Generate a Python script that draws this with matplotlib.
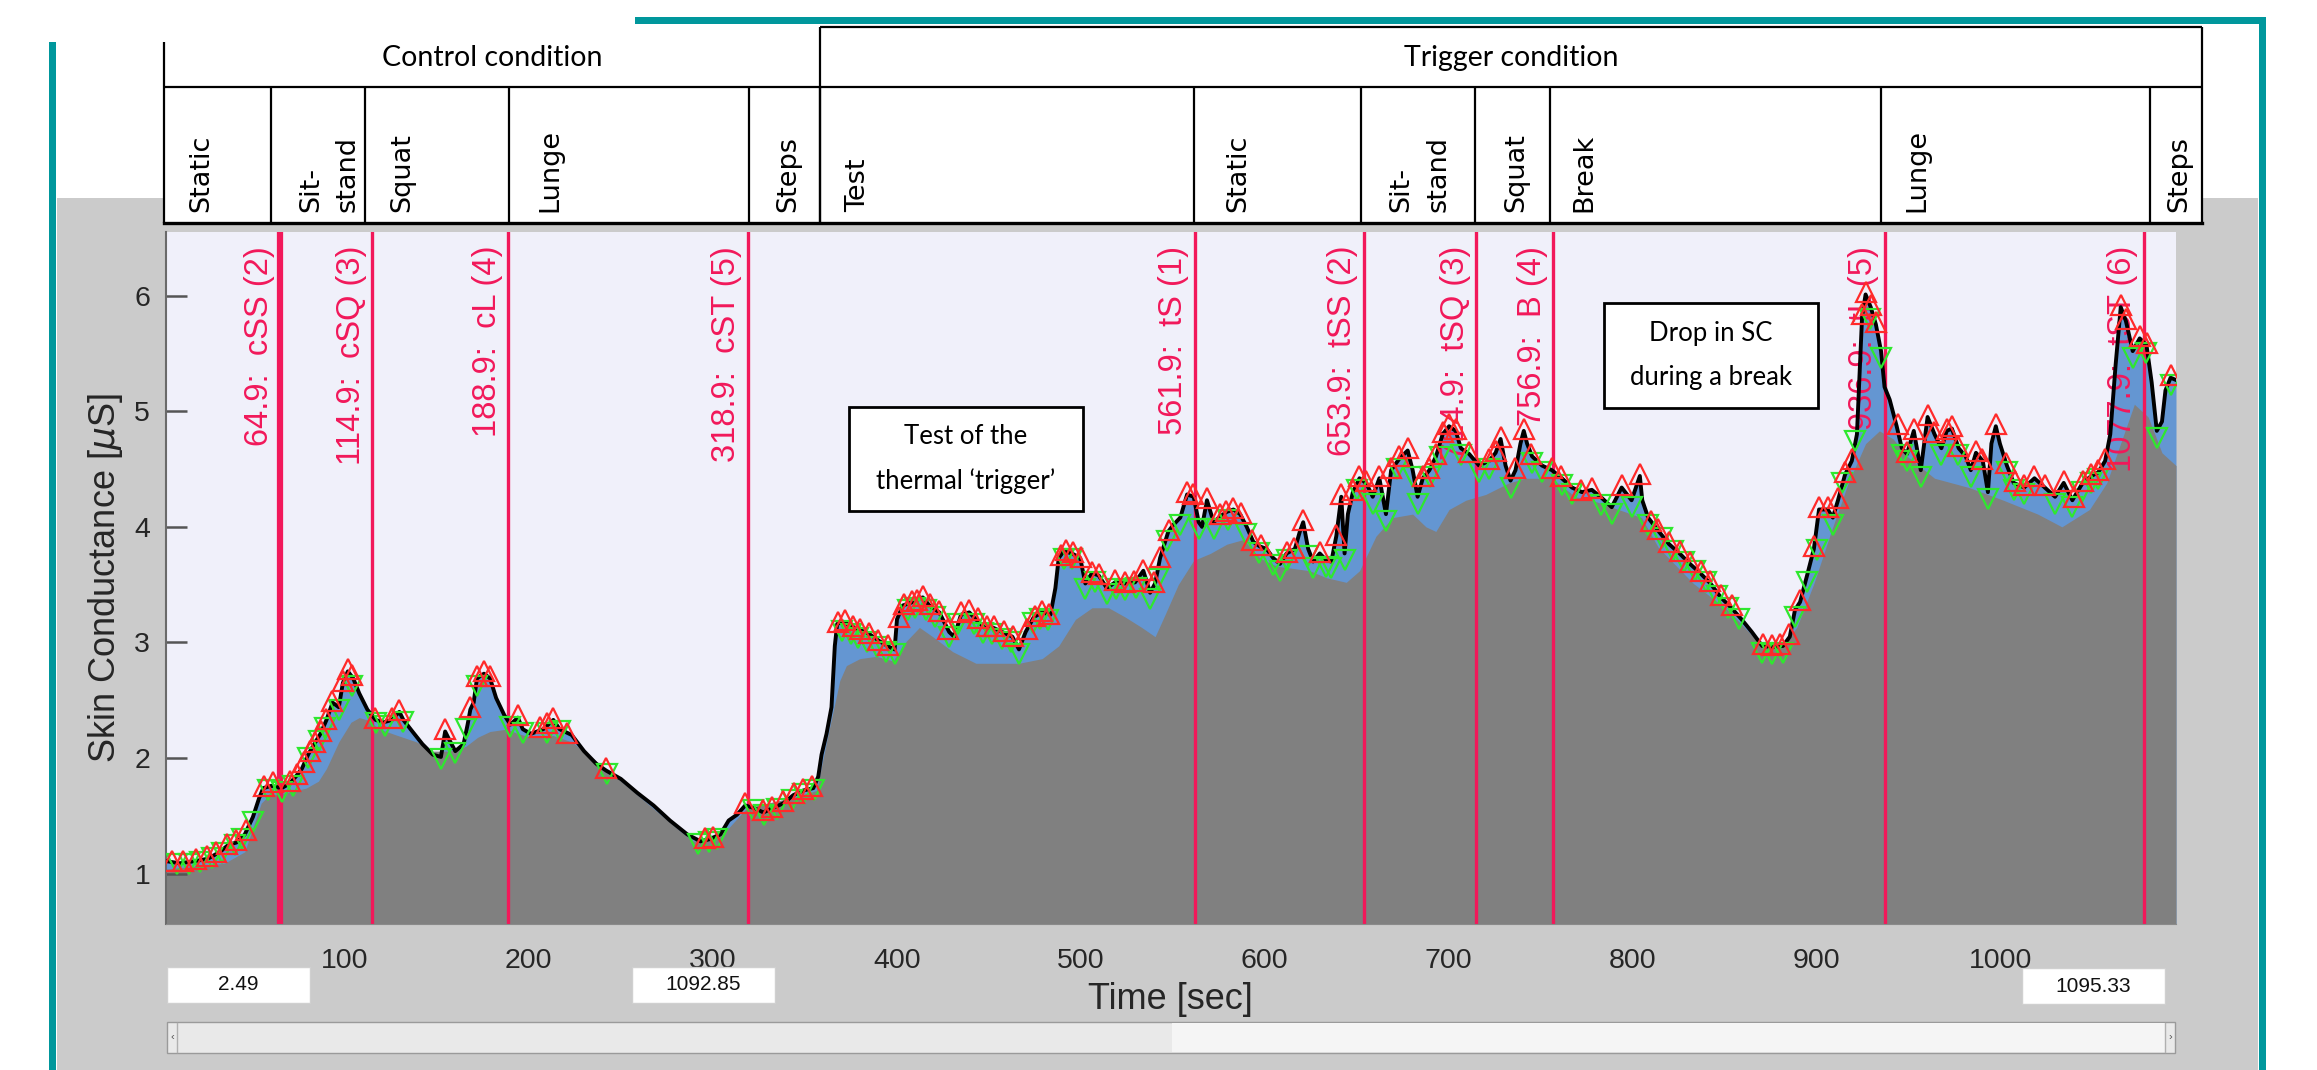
import matplotlib.pyplot as plt
from matplotlib.patches import Rectangle

plt.rcParams['font.family'] = ['Liberation Sans', 'DejaVu Sans']

W, H = 2317, 1070

# skin conductance signal (black line)
sc_t = [2.49, 10, 19, 25.6, 32.2, 36.7, 41.1, 45.6, 50, 53.3, 55.6, 60, 65.6, 70, 73.3, 76.7, 80, 83.3,
        86.7, 90, 93.3, 96.7, 98.9, 101.6, 104.5, 107.8, 112.2, 116.7, 121.1, 125.6, 127.8, 129.6, 131.8,
        136.7, 142.2, 147.8, 152.2, 154.5, 156.7, 160, 164.5, 166.7, 168.2, 170, 171.8, 175.6, 178.9,
        182.2, 186.7, 190, 194, 196.7, 201.1, 207.8, 213.3, 216.7, 223.3, 230, 236.7, 242.2, 250, 258.9,
        267.8, 276.7, 286.1, 293.3, 298.7, 304.1, 308.6, 313.1, 317.6, 322.1, 327.5, 333, 338.4, 343.8,
        349.2, 354.6, 357.3, 359.1, 361.8, 364.5, 366.3, 367.6, 370.8, 375.3, 379.9, 385.3, 390.7, 396.1,
        398.8, 400.1, 403.3, 408.7, 414.1, 417.7, 423.1, 428.5, 431.2, 434.9, 439.4, 443, 447.5, 452,
        457.4, 462.8, 466.4, 470, 474.5, 479, 483.5, 486.2, 488, 490.7, 495.2, 499.7, 502.5, 506.1, 509.7,
        514.2, 518.7, 524.1, 529.5, 534, 537.7, 540.4, 543.1, 547.6, 550.5, 554.1, 557.8, 561.4, 564.1,
        565.9, 568.6, 572.2, 575.8, 579.4, 583, 586.6, 590.2, 593.8, 597.4, 601, 604.6, 608.3, 611.9,
        616.4, 619.1, 620.9, 623.6, 626.3, 629.9, 633.5, 636.2, 638.9, 641.6, 643.4, 645.2, 647.9, 651.5,
        655.1, 658.7, 662.3, 665.9, 668.7, 673.2, 677.7, 680.4, 683.1, 685.9, 689.5, 693.1, 696.7, 700.2,
        703.8, 706.6, 711.1, 716.5, 721.9, 725.5, 728.2, 730.9, 733.6, 736.3, 739, 740.8, 742.6, 745.3,
        750.7, 756.1, 761.5, 767, 772.4, 777.8, 783.2, 788.6, 794, 799.4, 803.9, 805.2, 808.4, 814.2,
        819.8, 825.5, 831.1, 836.7, 842.3, 847.9, 853.6, 859.2, 864.8, 870.4, 876, 881.7, 885.4, 888.2,
        891, 894.8, 898.5, 901.3, 906, 908.8, 911.6, 915.4, 919.1, 921.9, 924.7, 926.6, 929.4, 932.2, 935,
        936.9, 939.7, 943.5, 946.3, 949.1, 952.8, 956.6, 960.3, 964.1, 967.8, 970.7, 973.5, 977.2, 981,
        983.8, 986.6, 990.3, 993.1, 995, 997.4, 999.6, 1003.4, 1007.1, 1012.8, 1018.4, 1024, 1029.6,
        1034.3, 1039, 1044.6, 1049.3, 1053, 1056.8, 1059.6, 1062.5, 1065.3, 1068.1, 1071.8, 1075.6,
        1079.3, 1082.1, 1084.9, 1087.7, 1089.6, 1092.4, 1095.33]
sc_v = [1.11, 1.09, 1.11, 1.13, 1.19, 1.25, 1.27, 1.34, 1.49, 1.65, 1.74, 1.76, 1.74, 1.78, 1.84, 1.91, 2.03, 2.12,
        2.21, 2.33, 2.48, 2.44, 2.65, 2.75, 2.69, 2.56, 2.42, 2.33, 2.31, 2.33, 2.37, 2.40, 2.33,
        2.23, 2.12, 2.03, 2.01, 2.23, 2.16, 2.06, 2.12, 2.29, 2.42, 2.48, 2.69, 2.73, 2.69,
        2.52, 2.37, 2.29, 2.35, 2.25, 2.21, 2.25, 2.33, 2.25, 2.20, 2.06, 1.95, 1.89, 1.82, 1.70,
        1.59, 1.46, 1.34, 1.28, 1.30, 1.34, 1.46, 1.51, 1.59, 1.57, 1.53, 1.57, 1.61, 1.68,
        1.72, 1.74, 1.84, 2.03, 2.21, 2.44, 2.97, 3.16, 3.18, 3.14, 3.11, 3.07, 3.01, 2.96,
        2.94, 3.20, 3.32, 3.35, 3.39, 3.32, 3.26, 3.09, 3.05, 3.24, 3.26, 3.20, 3.13, 3.13,
        3.09, 3.05, 2.94, 3.09, 3.22, 3.26, 3.24, 3.47, 3.73, 3.79, 3.77, 3.73, 3.51, 3.60, 3.58,
        3.47, 3.52, 3.51, 3.52, 3.62, 3.43, 3.51, 3.73, 3.96, 4.02, 4.08, 4.28, 4.26, 4.04,
        4.00, 4.23, 4.04, 4.09, 4.13, 4.15, 4.11, 4.00, 3.87, 3.83, 3.81, 3.73, 3.68, 3.77,
        3.81, 3.96, 4.04, 3.81, 3.70, 3.77, 3.71, 3.70, 3.92, 4.26, 3.77, 4.11, 4.30, 4.42,
        4.38, 4.26, 4.42, 4.11, 4.49, 4.59, 4.66, 4.49, 4.26, 4.42, 4.49, 4.61, 4.80, 4.87,
        4.83, 4.68, 4.63, 4.53, 4.57, 4.64, 4.76, 4.53, 4.40, 4.49, 4.72, 4.83, 4.72, 4.61,
        4.53, 4.49, 4.42, 4.34, 4.30, 4.32, 4.25, 4.17, 4.34, 4.23, 4.44, 4.23, 4.08, 3.96,
        3.85, 3.77, 3.68, 3.60, 3.51, 3.39, 3.30, 3.20, 3.09, 2.97, 2.96, 2.97, 3.05, 3.28,
        3.35, 3.58, 3.81, 4.15, 4.15, 4.08, 4.23, 4.45, 4.57, 4.80, 5.82, 6.01, 5.90, 5.75, 5.52,
        5.21, 5.10, 4.87, 4.68, 4.63, 4.83, 4.49, 4.95, 4.80, 4.68, 4.83, 4.85, 4.68, 4.61,
        4.49, 4.64, 4.57, 4.30, 4.72, 4.87, 4.72, 4.53, 4.38, 4.34, 4.42, 4.34, 4.26,
        4.38, 4.23, 4.38, 4.44, 4.47, 4.57, 4.80, 5.40, 5.90, 5.78, 5.52, 5.63,
        5.57, 5.25, 4.83, 4.91, 5.18, 5.29, 5.27]

# tonic component (grey area)
tonic_t = [2.49, 34.5, 45.6, 54.5, 58.9, 67.8, 78.9, 85.6, 90, 96.7, 103.3, 107.8, 112.2, 118.9, 127.8,
           138.9, 147.8, 156.7, 165.6, 172.2, 178.9, 187.8, 194.5, 201.1, 212.2, 223.3, 245.6, 282.9,
           289.7, 307.7, 318.5, 343.8, 356.4, 361.8, 369, 372.6, 379.9, 388.9, 397.9, 405.1, 412.3, 419.5,
           430.4, 443, 466.4, 479, 488, 497.1, 506.1, 515.1, 524.1, 533.1, 540.4, 545.8, 553, 561.4, 570.4,
           579.4, 588.4, 597.4, 606.4, 615.5, 624.5, 633.5, 644.3, 651.5, 660.5, 669.6, 680.4, 687.6, 693,
           700.2, 709.3, 720.1, 732.7, 741.7, 756.1, 768.8, 777.8, 795.8, 804.8, 814, 833, 851.7, 870.4,
           879.8, 889.2, 898.5, 907.9, 917.2, 926.6, 934.1, 941.6, 949.1, 964.1, 982.8, 1001.5, 1020.2,
           1033.3, 1048.3, 1057.7, 1065.2, 1072.7, 1080.2, 1087.7, 1095.33]
tonic_v = [1.04, 1.09, 1.19, 1.61, 1.68, 1.70, 1.74, 1.80, 1.91, 2.14, 2.31, 2.35, 2.33, 2.25, 2.20,
           2.14, 2.06, 2.06, 2.10, 2.18, 2.23, 2.25, 2.21, 2.18, 2.20, 2.14, 1.86, 1.36,
           1.28, 1.38, 1.57, 1.66, 1.72, 2.14, 2.67, 2.80, 2.86, 2.88, 2.84, 3.01, 3.13, 3.05,
           2.92, 2.82, 2.82, 2.86, 2.97, 3.20, 3.30, 3.30, 3.22, 3.13, 3.05, 3.24, 3.50, 3.71, 3.77,
           3.85, 3.89, 3.73, 3.66, 3.64, 3.62, 3.56, 3.52, 3.62, 3.92, 4.08, 4.11, 4.00, 3.96,
           4.15, 4.23, 4.28, 4.38, 4.42, 4.42, 4.26, 4.23, 4.13, 4.08, 3.82, 3.51, 3.28, 2.97,
           2.94, 3.13, 3.51, 3.96, 4.38, 4.72, 4.83, 4.76, 4.61, 4.42, 4.34, 4.23, 4.11,
           4.00, 4.15, 4.38, 4.72, 5.06, 4.95, 4.64, 4.53]

# detected peaks (red) and minima (green)
peak_t = [6, 12, 19, 25, 30, 36, 41, 46, 56, 61, 70, 74, 78, 81, 84, 87, 90, 93, 99, 101.6, 104, 116.5,
          125.6, 129.6, 154.5, 168, 171.8, 175.6, 179, 194, 206, 210, 213.3, 221, 242.2, 296, 300, 317.6,
          327, 332, 338, 344, 349, 354, 368, 372, 376, 380, 385, 390, 395, 401, 404, 408, 411, 414, 418,
          423, 428, 435, 439, 444, 449, 453, 458, 463, 471, 475, 479, 483, 489, 492, 496, 500, 506, 510,
          518.7, 524, 529, 534, 540, 543, 548, 557.8, 561, 568.6, 575.8, 579, 583, 587, 593, 598, 612, 616,
          620.9, 630, 639, 641.6, 647.9, 651.5, 655, 662.3, 668.7, 673.2, 677.7, 685.9, 689.5, 693.1,
          696.7, 700.2, 703.8, 711, 721.9, 725.5, 728.2, 736.3, 740.8, 745, 756, 761, 772, 778, 794,
          803.9, 810, 814, 820, 825.5, 831, 837, 842, 848, 854, 871, 876, 880, 885, 891, 898.5, 901.3,
          906, 911.6, 915.4, 919, 924.7, 926.6, 929.4, 932, 944, 949, 952.8, 960.3, 964, 970.7, 973.5,
          977, 986.6, 990, 997.4, 1003, 1008, 1012.8, 1018.4, 1024, 1034.3, 1040, 1044.6, 1049.3, 1053,
          1056.8, 1065.3, 1068.1, 1075.6, 1079.3, 1092.4]
peak_v = [1.11, 1.11, 1.13, 1.15, 1.19, 1.26, 1.29, 1.38, 1.76, 1.79, 1.80, 1.86, 1.97, 2.06, 2.14, 2.23, 2.34,
          2.49, 2.67, 2.77, 2.72, 2.35, 2.35, 2.42, 2.25, 2.44, 2.71, 2.75, 2.71, 2.37, 2.27, 2.30, 2.35,
          2.22, 1.91, 1.31, 1.32, 1.61, 1.55, 1.58, 1.63, 1.70, 1.73, 1.76, 3.18, 3.19, 3.14, 3.12, 3.08,
          3.02, 2.98, 3.22, 3.33, 3.36, 3.37, 3.40, 3.33, 3.27, 3.12, 3.26, 3.28, 3.21, 3.14, 3.14, 3.10,
          3.06, 3.12, 3.23, 3.27, 3.25, 3.76, 3.80, 3.78, 3.74, 3.61, 3.59, 3.54, 3.52, 3.53, 3.63, 3.52,
          3.74, 3.97, 4.30, 4.28, 4.25, 4.11, 4.14, 4.16, 4.12, 3.89, 3.84, 3.78, 3.82, 4.06, 3.78, 3.93,
          4.28, 4.32, 4.44, 4.40, 4.44, 4.51, 4.61, 4.68, 4.44, 4.51, 4.63, 4.82, 4.89, 4.85, 4.65, 4.59,
          4.66, 4.78, 4.51, 4.85, 4.63, 4.51, 4.44, 4.32, 4.34, 4.36, 4.46, 4.05, 3.98, 3.87, 3.79, 3.70,
          3.62, 3.53, 3.41, 3.32, 2.99, 2.98, 2.99, 3.07, 3.37, 3.83, 4.17, 4.17, 4.25, 4.47, 4.59, 5.84,
          6.03, 5.92, 5.77, 4.89, 4.65, 4.85, 4.97, 4.82, 4.85, 4.87, 4.70, 4.66, 4.59, 4.89, 4.55, 4.40,
          4.36, 4.44, 4.36, 4.40, 4.26, 4.40, 4.46, 4.49, 4.59, 5.92, 5.80, 5.65, 5.59, 5.31]
trough_t = [9, 15, 21, 28, 33, 40, 44, 50, 58, 66, 72, 80, 86, 89, 96.7, 104, 117, 122, 131.8, 152, 160,
            166, 172, 190, 197, 210, 216.7, 242.5, 292, 298, 302, 322, 328, 335, 343, 349, 355, 370, 375,
            379, 384, 389, 394, 398.8, 406, 410, 416, 421, 428.5, 433, 442, 447, 452, 457, 462, 466.4, 474,
            478, 482, 491, 495, 502.5, 508, 514.2, 519, 524, 530, 537.7, 542, 547, 554, 564.1, 572.2, 580,
            590, 597, 604.6, 608.3, 612, 623.6, 626.3, 633.5, 636.2, 643.4, 650, 658.7, 665.9, 672, 680.4,
            683.1, 690, 695, 706.6, 716.5, 722, 733.6, 745.3, 750.7, 761.5, 767, 783, 788.6, 799.4, 808.4,
            816, 822, 828, 834, 840, 846, 852, 858, 870.4, 876, 881.7, 888, 894.8, 900, 908.8, 914, 921,
            929, 935, 946.3, 949.1, 956.6, 967.8, 977, 983.8, 993.1, 1003.4, 1007.1, 1012.8, 1029.6, 1039,
            1044, 1049, 1053, 1071.8, 1079, 1084.9, 1092.4]
trough_v = [1.08, 1.08, 1.10, 1.14, 1.18, 1.25, 1.30, 1.45, 1.72, 1.71, 1.76, 2.00, 2.15, 2.26, 2.42, 2.62,
            2.30, 2.28, 2.31, 1.99, 2.04, 2.25, 2.62, 2.27, 2.22, 2.22, 2.23, 1.86, 1.26, 1.27, 1.30, 1.55,
            1.51, 1.56, 1.64, 1.69, 1.72, 3.10, 3.07, 3.04, 3.00, 2.96, 2.92, 2.90, 3.28, 3.30, 3.28, 3.22,
            3.05, 3.16, 3.16, 3.08, 3.07, 3.03, 3.00, 2.90, 3.17, 3.20, 3.19, 3.72, 3.72, 3.46, 3.52, 3.42,
            3.46, 3.45, 3.47, 3.38, 3.55, 3.88, 4.02, 3.98, 3.98, 4.06, 3.94, 3.77, 3.67, 3.62, 3.71, 3.75,
            3.64, 3.65, 3.64, 3.71, 4.32, 4.20, 4.05, 4.50, 4.43, 4.20, 4.43, 4.60, 4.62, 4.47, 4.50, 4.34,
            4.55, 4.47, 4.36, 4.28, 4.19, 4.11, 4.17, 4.02, 3.90, 3.79, 3.70, 3.62, 3.52, 3.40, 3.30, 3.20,
            2.91, 2.90, 2.91, 3.22, 3.52, 3.80, 4.02, 4.38, 4.74, 5.80, 5.46, 4.62, 4.57, 4.43, 4.62, 4.62,
            4.43, 4.24, 4.47, 4.32, 4.28, 4.20, 4.17, 4.30, 4.38, 4.41, 5.46, 5.50, 4.77, 5.23]

event_t = [64.9, 114.9, 188.9, 318.9, 561.9, 653.9, 714.9, 756.9, 936.9, 1077.9]
event_lbl = ['64.9:  cSS (2)', '114.9:  cSQ (3)', '188.9:  cL (4)', '318.9:  cST (5)',
             '561.9:  tS (1)', '653.9:  tSS (2)', '714.9:  tSQ (3)', '756.9:  B (4)',
             '936.9:  tL (5)', '1077.9:  tST (6)']

conditions = ['Control condition', 'Trigger condition']
phases = ['Static', 'Sit-\nstand', 'Squat', 'Lunge', 'Steps', 'Test',
          'Static', 'Sit-\nstand', 'Squat', 'Break', 'Lunge', 'Steps']
notes = ['Test of the\nthermal \u2018trigger\u2019', 'Drop in SC\nduring a break']

x_ticks = [100, 200, 300, 400, 500, 600, 700, 800, 900, 1000]
y_ticks = [1, 2, 3, 4, 5, 6]
x_range = (2.49, 1095.33)
range_boxes = ['2.49', '1092.85', '1095.33']

RED = '#f2185a'
TEAL = '#00979c'

fig = plt.figure(figsize=(W / 100, H / 100), dpi=100)

# background layer in pixel units: grey panel, teal frame, header table
bg = fig.add_axes([0, 0, 1, 1], zorder=0)
bg.set_xlim(0, W)
bg.set_ylim(H, 0)
bg.axis('off')
bg.add_patch(Rectangle((57, 198), 2201, H - 198, fc='#cbcbcb', ec='none'))
bg.add_patch(Rectangle((49, 42), 7, H - 42, fc=TEAL, ec='none'))
bg.add_patch(Rectangle((635, 17), 2266 - 635, 7, fc=TEAL, ec='none'))
bg.add_patch(Rectangle((2259, 17), 7, H - 17, fc=TEAL, ec='none'))

col_edges = [164, 271, 365, 509, 749, 820, 1194, 1361, 1475, 1550, 1881, 2150, 2202]
phase_x = [201, 329.5, 402, 550, 788, 858, 1238, 1420, 1516, 1584, 1917, 2179]
bg.add_patch(Rectangle((164, 27), 2202 - 164, 196, fc='white', ec='none'))
lk = dict(color='black', lw=1.6, solid_capstyle='butt')
bg.plot([820, 2202], [27, 27], **lk)
bg.plot([164, 164], [42, 223], **lk)
bg.plot([2202, 2202], [27, 223], **lk)
bg.plot([820, 820], [27, 223], **lk)
bg.plot([164, 2202], [87, 87], **lk)
bg.plot([164, 2202], [223, 223], color='black', lw=2.4)
for x in col_edges[1:-1]:
    bg.plot([x, x], [87, 223], **lk)

bg.text(492, 58, conditions[0], ha='center', va='center', fontsize=20.5, family='Lato')
bg.text(1511, 58, conditions[1], ha='center', va='center', fontsize=20.5, family='Lato')
for x, p in zip(phase_x, phases):
    bg.text(x, 212, p, rotation=90, ha='center', va='bottom', fontsize=19.5,
            family='DejaVu Sans', multialignment='left', linespacing=1.55)

# main plot
ax = fig.add_axes([165.5 / W, 1 - 924 / H, (2176 - 165.5) / W, (924 - 232) / H], zorder=1)
ax.set_facecolor('#f0f0fa')
ax.fill_between(sc_t, sc_v, 0, color='#6496d2', lw=0, zorder=1)
ax.fill_between(tonic_t, tonic_v, 0, color='#808080', lw=0, zorder=1.1)

for i, (t, lbl) in enumerate(zip(event_t, event_lbl)):
    ax.axvline(t, color=RED, lw=4.5 if i == 0 else 2.4, zorder=2)
    ax.annotate(lbl, xy=(t, 1), xycoords=('data', 'axes fraction'), xytext=(-4, -10),
                textcoords='offset points', rotation=90, ha='right', va='top',
                fontsize=23.5, color=RED, zorder=2.5)

ax.plot(sc_t, sc_v, color='black', lw=2.8, zorder=3)
ax.plot(trough_t, trough_v, ls='none', marker='v', ms=14, mfc='none', mec='#2ee82e', mew=1.6, zorder=4)
ax.plot(peak_t, peak_v, ls='none', marker='^', ms=14, mfc='none', mec='#ff2a2a', mew=1.6, zorder=4.5)

ax.set_xlim(*x_range)
ax.set_ylim(0.565, 6.55)
ax.set_xticks(x_ticks)
ax.set_yticks(y_ticks)
ax.tick_params(axis='y', direction='in', length=15, width=1.8, color='#555555',
               labelsize=20.5, labelcolor='#262626', pad=11)
ax.tick_params(axis='x', length=0, labelsize=20.5, labelcolor='#262626', pad=17)
for s in ['top', 'right']:
    ax.spines[s].set_visible(False)
ax.spines['left'].set_color('#6a6a6a')
ax.spines['left'].set_linewidth(1.5)
ax.spines['bottom'].set_color('#8a8a8a')
ax.set_xlabel('Time [sec]', fontsize=26, color='#262626')
ax.xaxis.set_label_coords(0.5, -0.084)
ax.set_ylabel('Skin Conductance [$\\mu$S]', fontsize=26, color='#262626')
ax.yaxis.set_label_coords(-0.02, 0.5)

# foreground layer: note boxes, range boxes, slider
fg = fig.add_axes([0, 0, 1, 1], zorder=2)
fg.set_xlim(0, W)
fg.set_ylim(H, 0)
fg.axis('off')

for (x0, y0, w, h), txt in zip([(849, 407, 234, 104), (1604, 303, 214, 105)], notes):
    fg.add_patch(Rectangle((x0, y0), w, h, fc='white', ec='black', lw=2))
    fg.text(x0 + w / 2, y0 + h / 2, txt, ha='center', va='center', fontsize=18.5,
            family='Lato', linespacing=1.95)

for (x0, y0), txt in zip([(167, 967), (632, 967), (2022, 968)], range_boxes):
    fg.add_patch(Rectangle((x0, y0), 143, 36, fc='white', ec='#d0d0d0', lw=1))
    fg.text(x0 + 71, y0 + 18, txt, ha='center', va='center', fontsize=15, color='#111111')

fg.add_patch(Rectangle((167, 1022), 2008, 31, fc='#e9e9e9', ec='#9a9a9a', lw=1))
fg.add_patch(Rectangle((1172, 1023), 993, 29, fc='#f5f5f5', ec='none'))
fg.plot([177, 177], [1023, 1052], color='#b0b0b0', lw=1)
fg.plot([2165, 2165], [1023, 1052], color='#b0b0b0', lw=1)
fg.text(172, 1037, '\u2039', ha='center', va='center', fontsize=8, color='#555555')
fg.text(2170, 1037, '\u203a', ha='center', va='center', fontsize=8, color='#555555')

fig.savefig('out.png', dpi=100)
